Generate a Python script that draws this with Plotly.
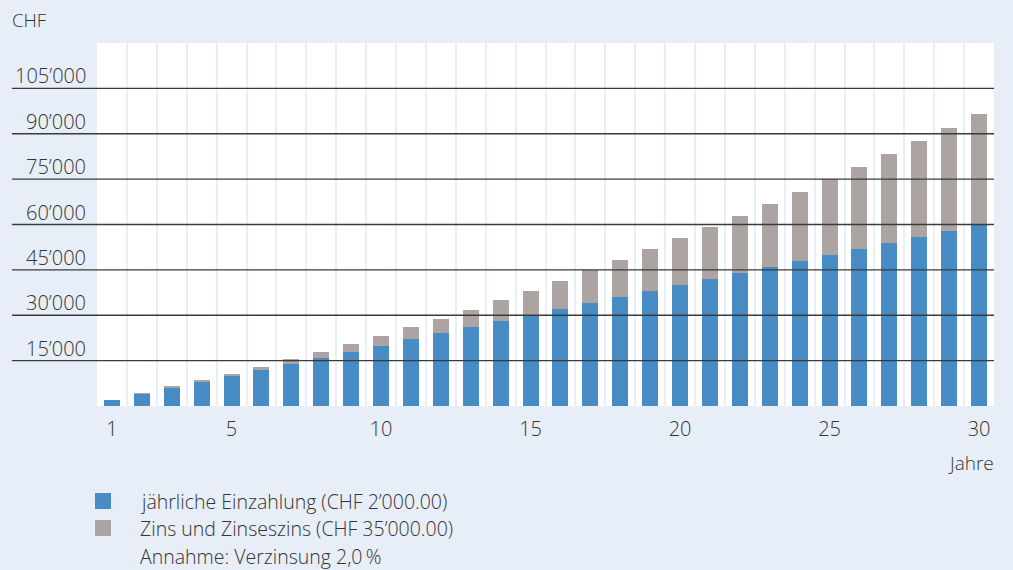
import plotly.graph_objects as go

years = list(range(1, 31))
einzahlung = [2000, 4000, 6000, 8000, 10000, 12000, 14000, 16000, 18000, 20000,
              22000, 24000, 26000, 28000, 30000, 32000, 34000, 36000, 38000, 40000,
              42000, 44000, 46000, 48000, 50000, 52000, 54000, 56000, 58000, 60000]
zins = [0, 40, 300, 400, 700, 1000, 1600, 2000, 2600, 3300,
        4200, 4900, 5800, 7100, 8100, 9400, 10800, 12400, 14000, 15600,
        17300, 18900, 20900, 22800, 25000, 27100, 29400, 31700, 34000, 36600]
y_ticks = [15000, 30000, 45000, 60000, 75000, 90000, 105000]
y_labels = ["15’000", "30’000", "45’000", "60’000", "75’000", "90’000", "105’000"]
x_ticks = [1, 5, 10, 15, 20, 25, 30]
legend_labels = ["jährliche Einzahlung (CHF 2’000.00)", "Zins und Zinseszins (CHF 35’000.00)"]
note = "Annahme: Verzinsung 2,0\u2009%"

BG = "#e8eef7"
BLUE = "#478cc4"
GRAY = "#aba4a2"
TXT = "#333333"
FONT = "Open Sans"
WT = 300

W, H = 1013, 570
L, R, T, B = 97, 994, 43, 406


def px(x):
    return (x - L) / (R - L)


def py(y):
    return (B - y) / (B - T)


def f(size):
    return dict(family=FONT, size=size, color=TXT, weight=WT)


fig = go.Figure()
fig.add_trace(go.Bar(x=years, y=einzahlung, marker=dict(color=BLUE, line=dict(width=0)),
                     name=legend_labels[0]))
fig.add_trace(go.Bar(x=years, y=zins, marker=dict(color=GRAY, line=dict(width=0)),
                     name=legend_labels[1]))

shapes = []
for v in y_ticks:
    shapes.append(dict(type="line", xref="paper", yref="y", x0=px(12), x1=1, y0=v, y1=v,
                       line=dict(color="#3a3a3a", width=1.3), layer="above"))
annotations = []
for v, lab in zip(y_ticks, y_labels):
    annotations.append(dict(xref="paper", yref="y", x=px(88), y=v, text=lab, showarrow=False,
                            xanchor="right", yanchor="bottom", yshift=-3, font=f(20)))
annotations.append(dict(xref="paper", yref="paper", x=px(10), y=py(20), text="CHF", showarrow=False,
                        xanchor="left", yanchor="middle", font=f(18.5)))
annotations.append(dict(xref="paper", yref="paper", x=px(996), y=py(463), text="Jahre", showarrow=False,
                        xanchor="right", yanchor="middle", font=f(19)))

# legend (manual)
for i, (col, lab) in enumerate(zip([BLUE, GRAY], legend_labels)):
    cy = 501 + 27 * i
    shapes.append(dict(type="rect", xref="paper", yref="paper", x0=px(95), x1=px(111),
                       y0=py(cy + 8), y1=py(cy - 8), fillcolor=col, line=dict(width=0)))
    annotations.append(dict(xref="paper", yref="paper", x=px(138), y=py(cy), text=lab, showarrow=False,
                            xanchor="left", yanchor="middle", font=f(19.5)))
annotations.append(dict(xref="paper", yref="paper", x=px(138), y=py(556), text=note, showarrow=False,
                        xanchor="left", yanchor="middle", font=f(19.5)))

fig.update_layout(
    width=W, height=H,
    margin=dict(l=L, r=W - R, t=T, b=H - B, pad=0),
    paper_bgcolor=BG, plot_bgcolor="white",
    barmode="stack", bargap=0.465,
    showlegend=False,
    shapes=shapes, annotations=annotations,
    font=f(18),
    xaxis=dict(range=[0.5, 30.5], tickmode="array", tickvals=x_ticks, ticktext=[str(t) for t in x_ticks],
               showgrid=False, zeroline=False, showline=False, ticks="", ticklabelstandoff=9,
               tickfont=f(20),
               minor=dict(tick0=0.5, dtick=1, showgrid=True, gridcolor="#e9eff8", gridwidth=2.2, ticks="")),
    yaxis=dict(range=[0, 120000], showgrid=False, zeroline=False, showline=False,
               showticklabels=False, ticks=""),
)

fig.write_html("out.html", config={"displayModeBar": False},
               post_script="document.body.style.margin='0';document.body.style.background='#e8eef7';")
